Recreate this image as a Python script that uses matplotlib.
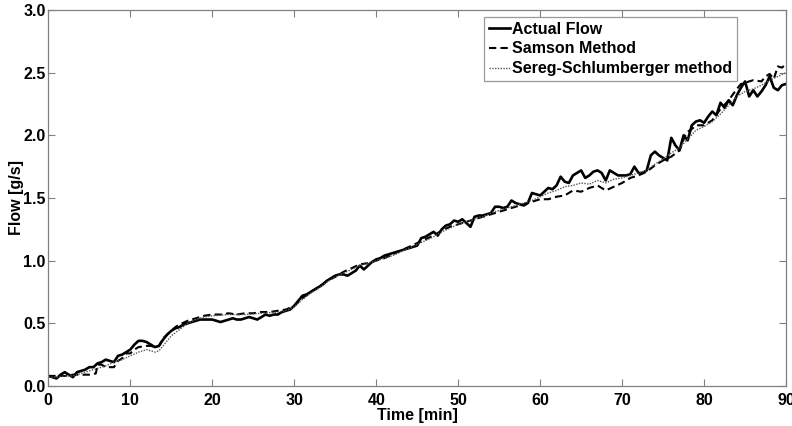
import matplotlib
matplotlib.use("Agg")
import matplotlib.pyplot as plt

# ---- data ----
actual_t = [0, 0.5, 1, 1.5, 2, 2.5, 3, 3.5, 4, 4.5, 5, 5.5, 6, 6.5, 7, 7.5, 8, 8.5, 9, 9.5,
            10, 10.5, 11, 11.5, 12, 12.5, 13, 13.5, 14, 14.5, 15, 15.5, 16, 16.5, 17, 17.5, 18, 18.5, 19, 19.5,
            20, 20.5, 21, 21.5, 22, 22.5, 23, 23.5, 24, 24.5, 25, 25.5, 26, 26.5, 27, 27.5, 28, 28.5, 29, 29.5,
            30, 30.5, 31, 31.5, 32, 32.5, 33, 33.5, 34, 34.5, 35, 35.5, 36, 36.5, 37, 37.5, 38, 38.5, 39, 39.5,
            40, 40.5, 41, 41.5, 42, 42.5, 43, 43.5, 44, 44.5, 45, 45.5, 46, 46.5, 47, 47.5, 48, 48.5, 49, 49.5,
            50, 50.5, 51, 51.5, 52, 52.5, 53, 53.5, 54, 54.5, 55, 55.5, 56, 56.5, 57, 57.5, 58, 58.5, 59, 59.5,
            60, 60.5, 61, 61.5, 62, 62.5, 63, 63.5, 64, 64.5, 65, 65.5, 66, 66.5, 67, 67.5, 68, 68.5, 69, 69.5,
            70, 70.5, 71, 71.5, 72, 72.5, 73, 73.5, 74, 74.5, 75, 75.5, 76, 76.5, 77, 77.5, 78, 78.5, 79, 79.5,
            80, 80.5, 81, 81.5, 82, 82.5, 83, 83.5, 84, 84.5, 85, 85.5, 86, 86.5, 87, 87.5, 88, 88.5, 89, 89.5, 90]
actual_flow = [0.08, 0.07, 0.06, 0.09, 0.11, 0.09, 0.07, 0.11, 0.12, 0.13, 0.15, 0.15, 0.18, 0.19, 0.21, 0.20, 0.19, 0.24, 0.25, 0.27,
               0.29, 0.33, 0.36, 0.36, 0.35, 0.33, 0.31, 0.32, 0.37, 0.41, 0.44, 0.46, 0.47, 0.49, 0.50, 0.51, 0.52, 0.53, 0.53, 0.53,
               0.53, 0.52, 0.51, 0.52, 0.53, 0.54, 0.53, 0.53, 0.54, 0.55, 0.54, 0.53, 0.55, 0.57, 0.56, 0.57, 0.57, 0.59, 0.60, 0.61,
               0.64, 0.68, 0.72, 0.73, 0.75, 0.77, 0.79, 0.81, 0.84, 0.86, 0.88, 0.89, 0.89, 0.88, 0.90, 0.92, 0.96, 0.93, 0.96, 0.99,
               1.01, 1.02, 1.04, 1.05, 1.06, 1.07, 1.08, 1.09, 1.10, 1.11, 1.12, 1.18, 1.19, 1.21, 1.23, 1.20, 1.25, 1.28, 1.29, 1.32,
               1.31, 1.33, 1.30, 1.27, 1.35, 1.36, 1.36, 1.37, 1.38, 1.43, 1.43, 1.42, 1.43, 1.48, 1.46, 1.45, 1.44, 1.46, 1.54, 1.53,
               1.52, 1.55, 1.58, 1.57, 1.60, 1.67, 1.63, 1.62, 1.68, 1.70, 1.72, 1.66, 1.68, 1.71, 1.72, 1.70, 1.64, 1.72, 1.70, 1.68,
               1.68, 1.68, 1.69, 1.75, 1.70, 1.70, 1.72, 1.84, 1.87, 1.84, 1.82, 1.80, 1.98, 1.92, 1.88, 2.00, 1.96, 2.08, 2.11, 2.12,
               2.10, 2.15, 2.19, 2.16, 2.26, 2.22, 2.28, 2.24, 2.32, 2.38, 2.43, 2.31, 2.36, 2.31, 2.35, 2.40, 2.47, 2.38, 2.36, 2.40, 2.41]

samson_t = [0, 1, 2, 3, 4, 5, 5.8, 6.0, 6.5, 7, 8, 8.5, 9, 9.5, 10, 10.5, 11, 12, 12.5, 13, 13.5, 14, 15, 15.5, 16, 17, 18, 19,
            20, 21, 22, 23, 24, 25, 26, 27, 28, 29, 30, 31, 32, 33, 34, 35, 36, 37, 38, 39, 40, 41, 42, 43, 44, 45, 46, 47, 48, 49,
            50, 51, 52, 53, 54, 55, 56, 57, 58, 59, 60, 61, 62, 63, 64, 65, 66, 67, 68, 69, 70, 71, 72, 73, 74, 75, 76, 77, 77.8,
            78.5, 79, 80, 81, 82, 83, 84, 84.5, 85, 86, 87, 87.5, 88, 88.5, 89, 89.5, 90]
samson_flow = [0.08, 0.08, 0.08, 0.09, 0.09, 0.09, 0.10, 0.17, 0.17, 0.15, 0.15, 0.20, 0.22, 0.26, 0.26, 0.29, 0.31, 0.32, 0.32, 0.31, 0.32, 0.38, 0.44, 0.47, 0.49, 0.52, 0.54, 0.56,
               0.57, 0.57, 0.58, 0.57, 0.58, 0.58, 0.59, 0.59, 0.60, 0.61, 0.64, 0.70, 0.75, 0.79, 0.84, 0.87, 0.91, 0.94, 0.97, 0.98, 1.00, 1.02, 1.05, 1.08, 1.11, 1.14, 1.17, 1.20, 1.24, 1.27,
               1.29, 1.31, 1.33, 1.35, 1.37, 1.39, 1.41, 1.43, 1.45, 1.47, 1.49, 1.49, 1.51, 1.52, 1.56, 1.55, 1.58, 1.60, 1.56, 1.59, 1.62, 1.66, 1.68, 1.71, 1.76, 1.80, 1.83, 1.88, 2.02,
               2.05, 2.08, 2.08, 2.12, 2.21, 2.28, 2.37, 2.41, 2.42, 2.44, 2.43, 2.47, 2.49, 2.45, 2.55, 2.54, 2.57]

sereg_t = [0, 1, 2, 3, 4, 5, 6, 7, 8, 9, 10, 11, 12, 12.5, 13, 13.5, 14, 15, 16, 17, 18, 19, 20, 22, 24, 26, 28, 29,
           30, 31, 32, 33, 34, 35, 36, 37, 38, 39, 40, 41, 42, 43, 44, 45, 46, 47, 48, 49, 50, 51, 52, 53, 54, 55, 56, 57, 58, 59,
           60, 61, 62, 63, 64, 65, 66, 67, 68, 69, 70, 71, 72, 73, 74, 75, 76, 77, 78, 79, 80, 81, 82, 83, 84, 85, 86, 87, 88, 89, 90]
sereg_flow = [0.07, 0.07, 0.08, 0.08, 0.10, 0.12, 0.14, 0.16, 0.19, 0.21, 0.24, 0.27, 0.29, 0.28, 0.27, 0.28, 0.32, 0.40, 0.45, 0.50, 0.53, 0.55, 0.56, 0.57, 0.57, 0.58, 0.59, 0.60,
              0.63, 0.69, 0.74, 0.78, 0.83, 0.87, 0.90, 0.93, 0.96, 0.98, 1.00, 1.02, 1.04, 1.07, 1.10, 1.13, 1.16, 1.19, 1.23, 1.26, 1.29, 1.31, 1.33, 1.35, 1.38, 1.40, 1.42, 1.44, 1.46, 1.48,
              1.51, 1.54, 1.56, 1.59, 1.60, 1.62, 1.61, 1.64, 1.62, 1.65, 1.66, 1.68, 1.70, 1.72, 1.77, 1.81, 1.86, 1.90, 1.97, 2.04, 2.07, 2.11, 2.17, 2.24, 2.31, 2.35, 2.37, 2.40, 2.44, 2.47, 2.50]

labels = ["Actual Flow", "Samson Method", "Sereg-Schlumberger method"]
x_ticks = [0, 10, 20, 30, 40, 50, 60, 70, 80, 90]
y_ticks = [0.0, 0.5, 1.0, 1.5, 2.0, 2.5, 3.0]

plt.rcParams['font.family'] = ['Liberation Sans', 'DejaVu Sans']
plt.rcParams['font.weight'] = 'bold'

fig = plt.figure(figsize=(7.92, 4.26), dpi=100)
ax = fig.add_axes([0.061, 0.094, 0.9315, 0.8825])

ax.plot(actual_t, actual_flow, color='black', lw=1.9, ls='-', label=labels[0])
ax.plot(samson_t, samson_flow, color='black', lw=1.5, ls=(0, (3.5, 2)), label=labels[1])
ax.plot(sereg_t, sereg_flow, color='#555555', lw=1.0, ls=(0, (1, 1)), label=labels[2])

ax.set_xlim(0, 90)
ax.set_ylim(0, 3.0)
ax.set_xticks(x_ticks)
ax.set_yticks(y_ticks)
ax.set_xticklabels([str(v) for v in x_ticks], fontsize=11.5, fontweight='bold')
ax.set_yticklabels([f"{v:.1f}" for v in y_ticks], fontsize=11.5, fontweight='bold')
ax.tick_params(direction='in', length=5, width=0.8, color='#808080', top=True, right=True, pad=2)
ax.tick_params(axis='x', pad=5)
for s in ax.spines.values():
    s.set_color('#808080')
    s.set_linewidth(0.9)

ax.set_xlabel("Time [min]", fontsize=11.5, fontweight='bold', labelpad=0)
ax.set_ylabel("Flow [g/s]", fontsize=11.5, fontweight='bold', labelpad=-1)

leg = ax.legend(loc='upper right', bbox_to_anchor=(0.933, 0.982), fontsize=11.5,
                handlelength=1.35, handletextpad=0.1, borderpad=0.3, labelspacing=0.3,
                frameon=True, fancybox=False, borderaxespad=0)
leg.get_frame().set_edgecolor('#808080')
leg.get_frame().set_linewidth(0.9)
for t in leg.get_texts():
    t.set_fontweight('bold')

fig.savefig("out.png", dpi=100)
